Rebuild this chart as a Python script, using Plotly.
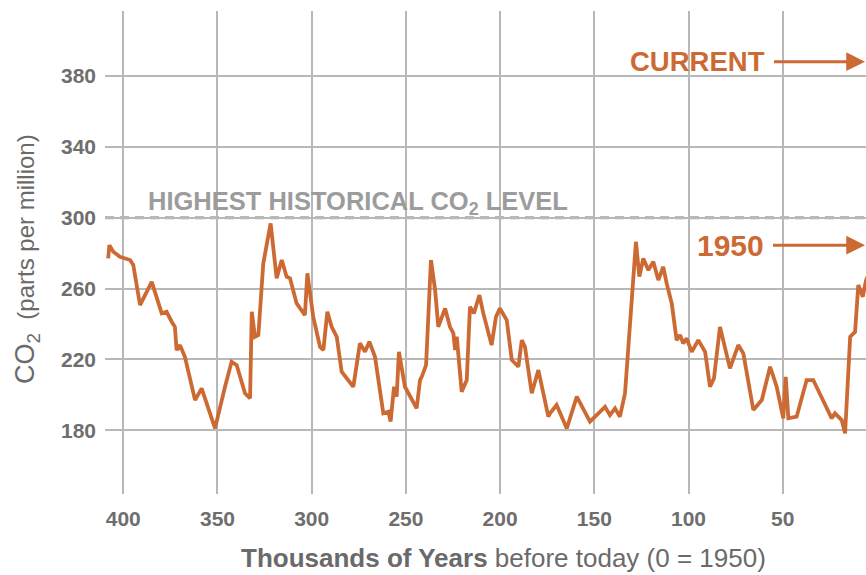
import plotly.graph_objects as go

# Thousands of years before 1950 (reversed axis) and CO2 concentration in ppm
kyr = [408.0, 407.4, 405.3, 401.8, 396.4, 394.7, 391.1, 384.9, 379.6, 377.0,
       374.3, 372.6, 371.7, 369.9, 367.3, 361.9, 358.4, 351.3, 346.0, 342.5,
       339.8, 335.4, 332.7, 331.8, 330.1, 328.3, 325.7, 321.8, 318.6, 315.9,
       313.3, 311.5, 308.0, 306.2, 303.6, 302.3, 300.9, 299.2, 295.6, 293.8,
       291.7, 289.4, 286.7, 284.1, 277.9, 274.4, 271.7, 269.4, 266.4, 262.0,
       259.3, 258.1, 256.3, 254.9, 253.7, 250.5, 244.3, 242.5, 241.6, 239.3,
       236.7, 234.5, 232.8, 229.2, 226.6, 224.8, 223.9, 223.0, 220.4, 217.7,
       216.0, 213.9, 211.0, 208.9, 204.5, 202.2, 200.1, 196.5, 193.8, 190.3,
       188.5, 186.8, 183.2, 179.7, 174.4, 173.5, 170.0, 164.6, 159.3, 152.3,
       144.3, 141.7, 139.0, 136.4, 133.7, 131.1, 127.9, 126.1, 124.0, 121.3,
       118.7, 116.0, 113.4, 111.6, 108.9, 106.3, 104.5, 102.8, 101.0, 98.3,
       94.8, 91.2, 88.6, 86.5, 83.3, 78.0, 73.6, 70.9, 65.6, 61.1,
       56.7, 53.2, 49.7, 48.4, 47.0, 42.6, 37.3, 33.8, 28.5, 24.0,
       22.3, 18.7, 16.9, 14.2, 11.6, 9.9, 7.5, 5.8, 3.0]
co2 = [277.0, 284.5, 280.8, 277.9, 276.1, 273.3, 250.7, 263.8, 246.0, 246.9,
       241.3, 238.4, 225.3, 228.1, 221.5, 197.1, 203.7, 181.1, 204.6, 218.7,
       216.8, 200.9, 198.1, 246.9, 232.8, 233.8, 274.2, 296.8, 265.8, 276.1,
       266.7, 265.8, 251.6, 248.8, 245.0, 268.6, 258.2, 244.1, 227.2, 225.3,
       246.9, 238.4, 232.8, 213.1, 204.6, 229.1, 224.3, 230.0, 221.5, 189.6,
       190.5, 184.9, 204.6, 199.0, 224.3, 204.6, 192.4, 208.4, 210.2, 216.8,
       276.1, 259.2, 238.4, 248.8, 238.4, 234.7, 225.3, 232.8, 201.8, 208.4,
       249.7, 246.0, 256.3, 246.0, 228.1, 244.1, 248.8, 242.2, 219.7, 215.9,
       230.9, 227.2, 200.9, 214.0, 187.7, 189.6, 194.3, 181.1, 199.0, 184.9,
       193.3, 188.6, 192.4, 187.7, 200.9, 242.2, 286.4, 266.7, 277.0, 270.4,
       275.1, 264.8, 272.3, 262.9, 251.6, 230.9, 233.8, 229.1, 231.9, 224.3,
       230.9, 224.3, 204.6, 209.3, 238.4, 215.0, 228.1, 223.4, 191.5, 197.1,
       215.9, 204.6, 186.8, 210.2, 186.8, 187.7, 208.4, 208.4, 197.1, 186.8,
       189.6, 185.8, 178.3, 232.8, 235.6, 262.0, 255.4, 264.5, 272.0]

x_ticks = [400, 350, 300, 250, 200, 150, 100, 50]
y_ticks = [180, 220, 260, 300, 340, 380]
highest_level = 300
current_level = 388
level_1950 = 284.5

ORANGE = "#cd6a33"
GRID = "#b8b8b8"
TEXT_FONT = "Liberation Sans, Arial, Helvetica, sans-serif"

fig = go.Figure()
fig.add_trace(go.Scatter(x=kyr, y=co2, mode="lines",
                         line=dict(color=ORANGE, width=3.8), hoverinfo="skip"))

# hide the solid grid line under the dashed historical-level line
fig.add_shape(type="line", xref="paper", x0=0, x1=1, yref="y",
              y0=highest_level, y1=highest_level, layer="between",
              line=dict(color="white", width=3))
fig.add_shape(type="line", xref="paper", x0=0, x1=1, yref="y",
              y0=highest_level, y1=highest_level, layer="between",
              line=dict(color="#a3a3a3", width=3, dash="9px,6px"))

fig.add_annotation(text="HIGHEST HISTORICAL CO<sub>2</sub> LEVEL", xref="paper", x=0.054,
                   y=highest_level, yref="y", xanchor="left", yanchor="bottom", yshift=-3,
                   showarrow=False, font=dict(family=TEXT_FONT, size=25.5, color="#9c9c9c", weight="bold"))

# labels with arrows pointing to the right edge
fig.add_annotation(text="CURRENT", xref="paper", x=1, y=current_level, yref="y",
                   ax=-169, ay=0, showarrow=True, arrowhead=2, arrowsize=1.25,
                   arrowwidth=3, arrowcolor=ORANGE, startstandoff=8,
                   font=dict(family=TEXT_FONT, size=27.5, color=ORANGE, weight="bold"))
fig.add_annotation(text="1950", xref="paper", x=1, y=level_1950, yref="y",
                   ax=-136, ay=0, showarrow=True, arrowhead=2, arrowsize=1.25,
                   arrowwidth=3, arrowcolor=ORANGE, startstandoff=8,
                   font=dict(family=TEXT_FONT, size=30, color=ORANGE, weight="bold"))

fig.add_annotation(text="<span style='font-size:27px'>CO<sub>2</sub></span>  (parts per million)",
                   xref="paper", yref="paper",
                   x=-0.1025, y=0.4865, textangle=-90, xanchor="center", yanchor="middle",
                   showarrow=False, font=dict(family=TEXT_FONT, size=24, color="#6a6a6a"))
fig.add_annotation(text="<b>Thousands of Years</b> before today (0 = 1950)",
                   xref="paper", yref="paper", x=0.523, y=-0.1325,
                   xanchor="center", yanchor="middle", showarrow=False,
                   font=dict(family=TEXT_FONT, size=26, color="#6a6a6a"))

tick_font = dict(family=TEXT_FONT, size=21, color="#6e6e6e", weight="bold")
fig.update_xaxes(range=[409.7, 5.8], tickvals=x_ticks, ticktext=[str(v) for v in x_ticks],
                 showgrid=True, gridcolor=GRID, gridwidth=2, zeroline=False, showline=False,
                 ticks="", ticklabelstandoff=10, tickfont=tick_font)
fig.update_yaxes(range=[144.1, 416.6], tickvals=y_ticks, ticktext=[str(v) for v in y_ticks],
                 showgrid=True, gridcolor=GRID, gridwidth=2, zeroline=False, showline=False,
                 ticks="", ticklabelstandoff=8, tickfont=tick_font)

fig.update_layout(width=866, height=575, margin=dict(l=105, r=0, t=11, b=81),
                  paper_bgcolor="white", plot_bgcolor="white", showlegend=False)

fig.write_html("out.html", config={"displayModeBar": False},
               post_script="document.body.style.margin='0';document.body.style.overflow='hidden';")
